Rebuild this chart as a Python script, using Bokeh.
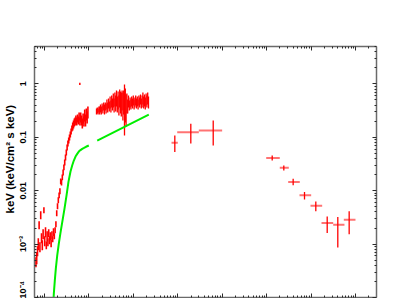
import numpy as np
from bokeh.plotting import figure
from bokeh.models import FixedTicker, LogAxis, Title
from bokeh.embed import file_html
from bokeh.resources import INLINE

# ---------------- data (energy in keV, EF(E) in keV (keV/cm^2 s keV)) ----------------
# low-energy instrument: log10(E), log10(flux), error (dex)
seg1_log_e = [-0.190, -0.172, -0.154, -0.136, -0.118, -0.100, -0.082, -0.064, -0.046, -0.028,
              -0.010, 0.008, 0.026, 0.044, 0.062, 0.080, 0.098, 0.116, 0.134, 0.152,
              0.170, 0.188, 0.206, 0.224, 0.242, 0.260, 0.278, 0.296, 0.314, 0.332,
              0.350, 0.368, 0.386, 0.404, 0.422, 0.440, 0.458, 0.476, 0.494, 0.512,
              0.530, 0.548, 0.566, 0.584, 0.602, 0.620, 0.638, 0.656, 0.674, 0.692,
              0.710, 0.728, 0.746, 0.764, 0.782, 0.800, 0.818, 0.836, 0.854, 0.872,
              0.890, 0.908, 0.926, 0.944, 0.962, 0.980]
seg1_log_f = [-3.340, -3.265, -3.134, -3.004, -2.649, -3.060, -2.462, -2.892, -3.022, -2.817,
              -2.368, -2.948, -2.779, -3.022, -2.854, -2.966, -2.798, -2.929, -2.854, -2.985,
              -2.835, -2.910, -2.779, -2.854, -2.742, -2.630, -2.424, -2.293, -2.181, -2.088,
              -2.013, -1.826, -1.845, -1.751, -1.658, -1.564, -1.471, -1.377, -1.284, -1.191,
              -1.116, -1.060, -1.004, -0.948, -0.892, -0.835, -0.798, -0.761, -0.723, -0.705,
              -0.667, -0.705, -0.649, -0.686, -0.611, -0.705, -0.630, -0.686, -0.742, -0.649,
              -0.705, -0.592, -0.686, -0.574, -0.630, -0.536]
seg1_err = [0.094, 0.112, 0.094, 0.112, 0.075, 0.094, 0.075, 0.094, 0.094, 0.094,
            0.056, 0.094, 0.094, 0.075, 0.094, 0.075, 0.075, 0.075, 0.075, 0.075,
            0.075, 0.056, 0.075, 0.056, 0.056, 0.056, 0.056, 0.056, 0.056, 0.056,
            0.056, 0.056, 0.056, 0.056, 0.056, 0.056, 0.056, 0.056, 0.056, 0.056,
            0.056, 0.056, 0.056, 0.056, 0.056, 0.056, 0.075, 0.075, 0.075, 0.075,
            0.075, 0.075, 0.075, 0.075, 0.075, 0.075, 0.094, 0.094, 0.094, 0.094,
            0.094, 0.112, 0.112, 0.112, 0.112, 0.112]

# hard X-ray instrument
seg2_log_e = [1.173, 1.191, 1.209, 1.227, 1.245, 1.263, 1.281, 1.299, 1.317, 1.335,
              1.353, 1.371, 1.389, 1.407, 1.425, 1.443, 1.461, 1.479, 1.497, 1.515,
              1.533, 1.551, 1.569, 1.587, 1.605, 1.623, 1.641, 1.659, 1.677, 1.695,
              1.713, 1.731, 1.749, 1.767, 1.785, 1.803, 1.821, 1.839, 1.857, 1.875,
              1.893, 1.911, 1.929, 1.947, 1.965, 1.983, 2.001, 2.019, 2.037, 2.055,
              2.073, 2.091, 2.109, 2.127, 2.145, 2.163, 2.181, 2.199, 2.217, 2.235,
              2.253, 2.271, 2.289, 2.307, 2.325, 2.343]
seg2_log_f = [-0.518, -0.499, -0.518, -0.480, -0.499, -0.462, -0.499, -0.443, -0.480, -0.424,
              -0.480, -0.424, -0.462, -0.387, -0.443, -0.368, -0.424, -0.350, -0.424, -0.331,
              -0.387, -0.312, -0.406, -0.293, -0.368, -0.275, -0.387, -0.312, -0.406, -0.275,
              -0.350, -0.387, -0.312, -0.424, -0.350, -0.462, -0.387, -0.499, -0.368, -0.424,
              -0.331, -0.406, -0.350, -0.387, -0.331, -0.368, -0.312, -0.387, -0.350, -0.312,
              -0.368, -0.331, -0.387, -0.312, -0.350, -0.293, -0.368, -0.331, -0.275, -0.350,
              -0.312, -0.368, -0.293, -0.331, -0.275, -0.350]
seg2_err_hi = [0.056, 0.056, 0.056, 0.056, 0.075, 0.075, 0.075, 0.075, 0.075, 0.075,
               0.094, 0.075, 0.094, 0.094, 0.094, 0.094, 0.094, 0.112, 0.112, 0.112,
               0.112, 0.131, 0.131, 0.131, 0.150, 0.150, 0.150, 0.169, 0.187, 0.169,
               0.206, 0.225, 0.187, 0.262, 0.225, 0.449, 0.300, 0.300, 0.187, 0.131,
               0.112, 0.094, 0.094, 0.094, 0.094, 0.094, 0.094, 0.094, 0.094, 0.094,
               0.094, 0.094, 0.094, 0.094, 0.094, 0.094, 0.094, 0.112, 0.112, 0.112,
               0.112, 0.112, 0.112, 0.112, 0.112, 0.112]
seg2_err_lo = [0.056, 0.056, 0.056, 0.056, 0.075, 0.075, 0.075, 0.075, 0.075, 0.075,
               0.094, 0.075, 0.094, 0.094, 0.094, 0.094, 0.094, 0.112, 0.112, 0.112,
               0.112, 0.131, 0.131, 0.131, 0.150, 0.150, 0.150, 0.169, 0.187, 0.169,
               0.206, 0.225, 0.187, 0.262, 0.225, 0.505, 0.337, 0.300, 0.187, 0.131,
               0.112, 0.094, 0.094, 0.094, 0.094, 0.094, 0.094, 0.094, 0.094, 0.094,
               0.094, 0.094, 0.094, 0.094, 0.094, 0.094, 0.094, 0.112, 0.112, 0.112,
               0.112, 0.112, 0.112, 0.112, 0.112, 0.112]

# isolated bright bin
spot_log_e = [0.798]
spot_log_f = [0.0]
spot_err = [0.02]

# gamma-ray points: energy (keV) with bin edges, flux with error limits
pts_e = [861, 1972, 6295, 1.337e5, 2.44e5, 3.96e5, 7.13e5, 1.28e6, 2.31e6, 4.0e6, 7.21e6]
pts_e_lo = [726, 975, 2985, 9.8e4, 1.98e5, 3.06e5, 5.5e5, 9.72e5, 1.72e6, 3.15e6, 5.46e6]
pts_e_hi = [1005, 2985, 1.0e4, 1.98e5, 3.16e5, 5.58e5, 1.007e6, 1.78e6, 3.15e6, 5.65e6, 1.0e7]
pts_f = [0.079, 0.124, 0.134, 0.0407, 0.0269, 0.0145, 0.0082, 0.0052, 0.00248, 0.00231, 0.00287]
pts_f_lo = [0.053, 0.076, 0.070, 0.0369, 0.0239, 0.0126, 0.0068, 0.0041, 0.00162, 0.00086, 0.00152]
pts_f_hi = [0.108, 0.179, 0.206, 0.0457, 0.0296, 0.0168, 0.0094, 0.0063, 0.0033, 0.00323, 0.0041]

# model curves (log10 E, log10 flux)
modA_log_e = [0.195, 0.213, 0.235, 0.258, 0.289, 0.325, 0.363, 0.408, 0.453, 0.498, 0.543,
              0.588, 0.626, 0.663, 0.701, 0.739, 0.775, 0.813, 0.852, 0.892, 0.937, 1.000]
modA_log_f = [-4.208, -3.927, -3.683, -3.459, -3.215, -2.990, -2.784, -2.560, -2.335, -2.091,
              -1.830, -1.642, -1.530, -1.436, -1.361, -1.311, -1.268, -1.240, -1.217, -1.199,
              -1.178, -1.155]
modB_log_e = [1.189, 1.769, 2.350]
modB_log_f = [-1.062, -0.818, -0.575]

y_tick_labels = {1e-4: "10\u207b\u2074", 1e-3: "10\u207b\u00b3", 0.01: "0.01", 0.1: "0.1", 1.0: "1"}
y_label = "keV  (keV/cm\u00b2 s keV)"

# ---------------- figure ----------------
p = figure(width=415, height=298, x_axis_type="log", y_axis_type="log",
           x_range=(0.6, 2.97e7), y_range=(1e-4, 5.0),
           output_backend="svg", toolbar_location=None,
           min_border_left=34, min_border_right=39, min_border_top=46, min_border_bottom=1)
p.grid.visible = False
p.outline_line_color = None
p.background_fill_color = "white"
p.border_fill_color = "white"

x_major = [10.0 ** k for k in range(-1, 8)]
x_minor = [m * 10.0 ** k for k in range(-1, 8) for m in range(2, 10)]
y_major = [1e-4, 1e-3, 1e-2, 1e-1, 1.0]
y_minor = [m * 10.0 ** k for k in range(-4, 1) for m in range(2, 10)]

AXC = "#6a6a6a"
TKC = "#2a2a2a"

def style(ax, ticks, hide_labels=True):
    ax.axis_line_color = AXC
    ax.axis_line_width = 1.5
    ax.major_tick_line_color = TKC
    ax.minor_tick_line_color = TKC
    ax.major_tick_in = 4
    ax.major_tick_out = 0
    ax.minor_tick_in = 2
    ax.minor_tick_out = 0
    if hide_labels:
        ax.major_label_overrides = {t: "" for t in ticks}
        ax.major_label_text_font_size = "1px"
        ax.major_label_text_alpha = 0.0
        ax.major_label_standoff = 0

bx = p.xaxis[0]
bx.ticker = FixedTicker(ticks=x_major, minor_ticks=x_minor)
style(bx, x_major)

ly = p.yaxis[0]
ly.ticker = FixedTicker(ticks=y_major, minor_ticks=y_minor)
style(ly, y_major, hide_labels=False)
ly.major_label_overrides = y_tick_labels
ly.major_label_orientation = "vertical"
ly.major_label_text_font = "Liberation Sans"
ly.major_label_text_font_style = "bold"
ly.major_label_text_font_size = "9px"
ly.major_label_text_color = "black"
ly.major_label_standoff = 6

tx = LogAxis(ticker=FixedTicker(ticks=x_major, minor_ticks=x_minor))
style(tx, x_major)
p.add_layout(tx, "above")
ry = LogAxis(ticker=FixedTicker(ticks=y_major, minor_ticks=y_minor))
style(ry, y_major)
p.add_layout(ry, "right")

# ---------------- glyphs ----------------
def pw(a):
    return np.power(10.0, np.asarray(a, dtype=float))

RED = "#ff0000"
GREEN = "#00ee00"

e1 = pw(seg1_log_e)
p.segment(x0=e1, y0=pw(np.subtract(seg1_log_f, seg1_err)), x1=e1,
          y1=pw(np.add(seg1_log_f, seg1_err)), line_color=RED, line_width=1.6)
e2 = pw(seg2_log_e)
p.segment(x0=e2, y0=pw(np.subtract(seg2_log_f, seg2_err_lo)), x1=e2,
          y1=pw(np.add(seg2_log_f, seg2_err_hi)), line_color=RED, line_width=1.3)
es = pw(spot_log_e)
p.segment(x0=es, y0=pw(np.subtract(spot_log_f, spot_err)), x1=es,
          y1=pw(np.add(spot_log_f, spot_err)), line_color=RED, line_width=1.5)

p.segment(x0=pts_e_lo, y0=pts_f, x1=pts_e_hi, y1=pts_f, line_color=RED,
          line_alpha=0.55, line_width=2)
p.segment(x0=pts_e, y0=pts_f_lo, x1=pts_e, y1=pts_f_hi, line_color=RED, line_width=1.3)

p.line(pw(modA_log_e), pw(modA_log_f), line_color=GREEN, line_width=2)
p.line(pw(modB_log_e), pw(modB_log_f), line_color=GREEN, line_width=2)

ttl = Title(text=y_label, align="left", offset=84, standoff=0,
            text_font="Liberation Sans", text_font_style="bold", text_font_size="11.5px",
            text_color="black")
p.add_layout(ttl, "left")

open("out.html", "w").write(file_html(p, INLINE, title="spectrum"))
